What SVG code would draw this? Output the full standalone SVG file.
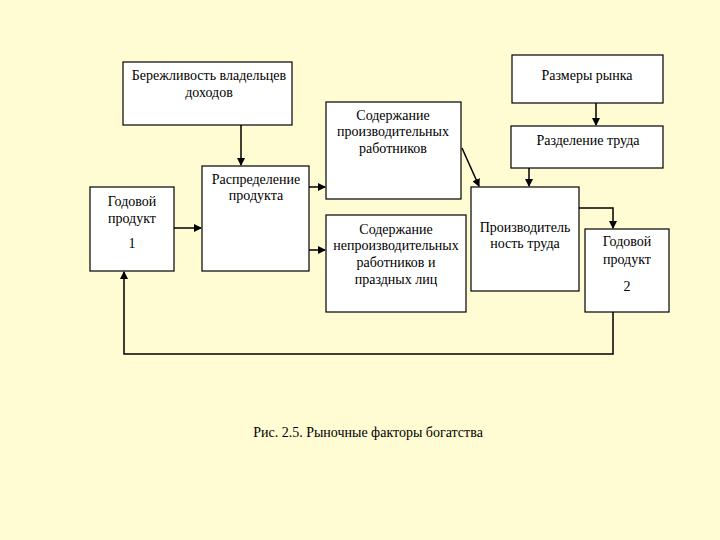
<svg xmlns="http://www.w3.org/2000/svg" width="720" height="540" viewBox="0 0 720 540">
<style>
.b{fill:#fff;stroke:#000;stroke-width:1.2}
text{font-family:"Liberation Serif","Times New Roman","DejaVu Serif",serif;font-size:14px;text-anchor:middle}
.c{fill:none;stroke:#000;stroke-width:1.5}
</style>
<defs><marker id="a" markerWidth="8" markerHeight="8" refX="7" refY="4" orient="auto" markerUnits="userSpaceOnUse"><path d="M0,0 L8,4 L0,8 z"/></marker></defs>
<rect width="720" height="540" fill="#FFFBD2"/>
<g id="n1"><rect class="b" x="123" y="62" width="169" height="63"/><text x="209" y="80">Бережливость владельцев</text><text x="209" y="97">доходов</text></g>
<g id="n2"><rect class="b" x="512" y="55" width="151" height="48"/><text x="587" y="80">Размеры рынка</text></g>
<g id="n3"><rect class="b" x="326" y="102" width="135" height="97"/><text x="393" y="120">Содержание</text><text x="393" y="136">производительных</text><text x="393" y="153">работников</text></g>
<g id="n4"><rect class="b" x="511" y="126" width="152" height="42"/><text x="588" y="145">Разделение труда</text></g>
<g id="n5"><rect class="b" x="90" y="187" width="84" height="84"/><text x="132" y="206">Годовой</text><text x="132" y="223">продукт</text><text x="132" y="248">1</text></g>
<g id="n6"><rect class="b" x="202" y="166" width="107" height="105"/><text x="256" y="184">Распределение</text><text x="256" y="200">продукта</text></g>
<g id="n7"><rect class="b" x="326" y="215" width="140" height="97"/><text x="396" y="234">Содержание</text><text x="396" y="250">непроизводительных</text><text x="396" y="267">работников и</text><text x="396" y="284">праздных лиц</text></g>
<g id="n8"><rect class="b" x="471" y="187" width="108" height="104"/><text x="525" y="232">Производитель</text><text x="525" y="248">ность труда</text></g>
<g id="n9"><rect class="b" x="585" y="229" width="84" height="83"/><text x="627" y="246">Годовой</text><text x="627" y="264">продукт</text><text x="627" y="291">2</text></g>
<g id="connectors">
<path class="c" d="M241,125V165" marker-end="url(#a)"/>
<path class="c" d="M596,103V125" marker-end="url(#a)"/>
<path class="c" d="M529,168V186" marker-end="url(#a)"/>
<path class="c" d="M174,228H201" stroke-width="1" marker-end="url(#a)"/>
<path class="c" d="M309,187H325" marker-end="url(#a)"/>
<path class="c" d="M309,250H325" marker-end="url(#a)"/>
<path class="c" d="M462,148L479,186" marker-end="url(#a)"/>
<path class="c" d="M579,208H613V228" marker-end="url(#a)"/>
<path class="c" d="M613,312V354H124V272" marker-end="url(#a)"/>
</g>
<text x="368" y="437">Рис. 2.5. Рыночные факторы богатства</text>
</svg>
